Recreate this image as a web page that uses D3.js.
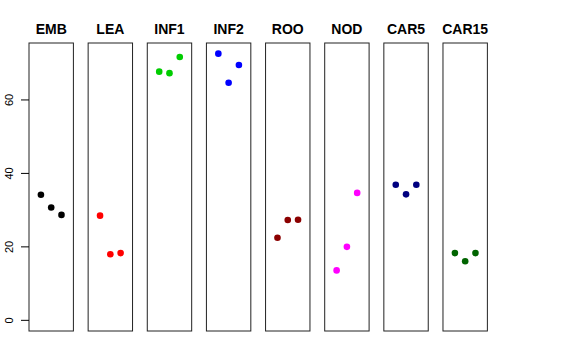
<!DOCTYPE html>
<html><head><meta charset="utf-8">
<script src="https://cdn.jsdelivr.net/npm/d3@7"></script>
<style>body{margin:0;background:#fff}</style>
</head><body>
<script>
const categories = ["EMB","LEA","INF1","INF2","ROO","NOD","CAR5","CAR15"];
const colors = ["#000000","#FF0000","#00CD00","#0000FF","#8B0000","#FF00FF","#000080","#006400"];
const valuesEMB = [34.2, 30.7, 28.7];
const valuesLEA = [28.5, 18.0, 18.3];
const valuesINF1 = [67.7, 67.3, 71.7];
const valuesINF2 = [72.6, 64.7, 69.5];
const valuesROO = [22.5, 27.3, 27.4];
const valuesNOD = [13.6, 20.0, 34.7];
const valuesCAR5 = [36.9, 34.3, 36.9];
const valuesCAR15 = [18.3, 16.1, 18.3];
const series = [valuesEMB, valuesLEA, valuesINF1, valuesINF2, valuesROO, valuesNOD, valuesCAR5, valuesCAR15];
const yTicks = [0, 20, 40, 60];

const W = 576, H = 360;
const svg = d3.select("body").append("svg").attr("width", W).attr("height", H);

const panelLeft = 29, panelStep = 59.14, panelW = 44.4;
const plotTop = 43, plotBottom = 331;
const ymax = d3.max(series.flat());
const ext = ymax * 0.04;
const y = d3.scaleLinear().domain([0 - ext, ymax + ext]).range([plotBottom, plotTop]);
const xInner = d3.scaleLinear().domain([-0.16, 4.16]).range([0, panelW]);

categories.forEach((cat, i) => {
  const x0 = panelLeft + panelStep * i;
  const g = svg.append("g").attr("transform", `translate(${x0},0)`);
  g.append("rect").attr("x", 0).attr("y", plotTop).attr("width", panelW).attr("height", plotBottom - plotTop)
    .attr("fill", "none").attr("stroke", "#222").attr("stroke-width", 1);
  g.selectAll("circle").data(series[i]).enter().append("circle")
    .attr("cx", (d, j) => xInner(j + 1)).attr("cy", d => y(d)).attr("r", 3.3)
    .attr("fill", colors[i]);
  g.append("text").attr("x", panelW / 2).attr("y", 34).attr("text-anchor", "middle")
    .attr("font-family", "Liberation Sans, Arial, sans-serif").attr("font-weight", "bold")
    .attr("font-size", 14).text(cat);
});

const axis = svg.append("g");
yTicks.forEach(t => {
  axis.append("line").attr("x1", 21).attr("x2", panelLeft).attr("y1", y(t)).attr("y2", y(t))
    .attr("stroke", "#000");
  axis.append("text").attr("transform", `translate(13,${y(t)}) rotate(-90)`)
    .attr("text-anchor", "middle").attr("font-family", "Liberation Sans, Arial, sans-serif")
    .attr("font-size", 11).text(t);
});
</script>
</body></html>
